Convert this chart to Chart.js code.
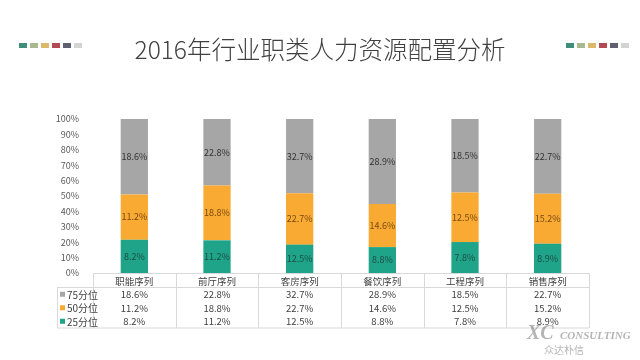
<!DOCTYPE html>
<html>
<head>
<meta charset="utf-8">
<script src="https://cdn.jsdelivr.net/npm/chart.js@4"></script>
<style>
  html, body { margin: 0; padding: 0; background: #fff; }
  #wrap { position: relative; width: 640px; height: 360px; }
  #titulo { position: absolute; left: 0; top: 31px; width: 640px; text-align: center;
    font-family: "Noto Sans CJK SC", sans-serif; font-size: 24.5px; font-weight: 300; color: #404040; }
  .cuadros { position: absolute; top: 43px; display: flex; gap: 3px; }
  .cuadros span { display: block; width: 8px; height: 5px; }
</style>
</head>
<body>
<div id="wrap">
  <div class="cuadros" style="left:19px"><span style="background:#3f8e7a"></span><span style="background:#a9b98f"></span><span style="background:#dcb86c"></span><span style="background:#b24a52"></span><span style="background:#5e6070"></span><span style="background:#d4d4d4"></span></div>
  <div class="cuadros" style="left:566px"><span style="background:#3f8e7a"></span><span style="background:#a9b98f"></span><span style="background:#dcb86c"></span><span style="background:#b24a52"></span><span style="background:#5e6070"></span><span style="background:#d4d4d4"></span></div>
  <div id="titulo">2016年行业职类人力资源配置分析</div>
  <canvas id="grafico" width="640" height="360"></canvas>
</div>
<script>
const categorias = ["职能序列", "前厅序列", "客房序列", "餐饮序列", "工程序列", "销售序列"];
const p25 = [8.2, 11.2, 12.5, 8.8, 7.8, 8.9];
const p50 = [11.2, 18.8, 22.7, 14.6, 12.5, 15.2];
const p75 = [18.6, 22.8, 32.7, 28.9, 18.5, 22.7];
const ticksY = ["0%", "10%", "20%", "30%", "40%", "50%", "60%", "70%", "80%", "90%", "100%"];

// 100% apilado: cada barra se normaliza a su total
const totales = categorias.map((c, i) => p25[i] + p50[i] + p75[i]);
const norm = arr => arr.map((v, i) => v / totales[i] * 100);

const series = [
  { label: "25分位", valores: p25, color: "#1fa48a", texto: "#1d4d44" },
  { label: "50分位", valores: p50, color: "#f8aa33", texto: "#7a4a10" },
  { label: "75分位", valores: p75, color: "#a6a6a6", texto: "#333333" }
];

const fuente = '"Noto Sans CJK SC", "Microsoft YaHei", sans-serif';

const tablaPlugin = {
  id: "tabla",
  afterDatasetsDraw(chart) {
    const ctx = chart.ctx;
    const x = chart.scales.x;
    const area = chart.chartArea;
    const paso = x.getPixelForValue(1) - x.getPixelForValue(0);
    const izq = x.getPixelForValue(0) - paso / 2;
    const der = x.getPixelForValue(categorias.length - 1) + paso / 2;
    const leyIzq = 57;
    const filaH = 13.5;
    const top = area.bottom;
    const cabecera = top + 14;
    const fondo = cabecera + filaH * 3 + 0.5;

    ctx.save();
    // etiquetas de datos dentro de las barras
    ctx.font = "9px " + fuente;
    ctx.textAlign = "center";
    ctx.textBaseline = "middle";
    chart.data.datasets.forEach((ds, di) => {
      const meta = chart.getDatasetMeta(di);
      meta.data.forEach((bar, i) => {
        const yc = (bar.y + bar.base) / 2;
        ctx.fillStyle = series[di].texto;
        ctx.fillText(series[di].valores[i].toFixed(1) + "%", bar.x, yc);
      });
    });

    // líneas de la tabla
    ctx.strokeStyle = "#d9d9d9";
    ctx.lineWidth = 1;
    ctx.beginPath();
    ctx.moveTo(izq, top + 0.5); ctx.lineTo(der, top + 0.5);
    ctx.moveTo(leyIzq, cabecera + 0.5); ctx.lineTo(der, cabecera + 0.5);
    ctx.moveTo(leyIzq, fondo); ctx.lineTo(der, fondo);
    ctx.moveTo(leyIzq + 0.5, cabecera); ctx.lineTo(leyIzq + 0.5, fondo);
    for (let i = 0; i <= categorias.length; i++) {
      const xx = Math.round(izq + paso * i) + 0.5;
      ctx.moveTo(xx, top); ctx.lineTo(xx, fondo);
    }
    ctx.stroke();

    // cabecera
    ctx.font = "9.5px " + fuente;
    ctx.fillStyle = "#404040";
    categorias.forEach((c, i) => {
      ctx.fillText(c, x.getPixelForValue(i), top + 8);
    });

    // filas (75, 50, 25)
    const orden = [2, 1, 0];
    orden.forEach((si, r) => {
      const yc = cabecera + filaH * r + filaH / 2 + 1;
      const s = series[si];
      ctx.fillStyle = s.color;
      ctx.fillRect(leyIzq + 3, yc - 3, 5, 5);
      ctx.fillStyle = "#404040";
      ctx.textAlign = "left";
      ctx.font = "10px " + fuente;
      ctx.fillText(s.label, leyIzq + 10, yc);
      ctx.textAlign = "center";
      ctx.font = "9.5px " + fuente;
      s.valores.forEach((v, i) => {
        ctx.fillText(v.toFixed(1) + "%", x.getPixelForValue(i), yc);
      });
    });

    // marca de agua
    ctx.globalAlpha = 0.4;
    ctx.fillStyle = "#444";
    ctx.textAlign = "left";
    ctx.font = "italic bold 20px Liberation Serif";
    ctx.fillText("XC", 527, 334);
    ctx.font = "italic bold 11px Liberation Serif";
    ctx.fillText("CONSULTING", 560, 336);
    ctx.font = "10px " + fuente;
    ctx.fillText("众达朴信", 544, 350);
    ctx.restore();
  }
};

new Chart(document.getElementById("grafico"), {
  type: "bar",
  data: {
    labels: categorias,
    datasets: series.map(s => ({
      label: s.label,
      data: norm(s.valores),
      backgroundColor: s.color,
      barPercentage: 0.33,
      categoryPercentage: 1
    }))
  },
  options: {
    responsive: false,
    animation: false,
    layout: { padding: { left: 0, top: 119, right: 51, bottom: 87 } },
    plugins: { legend: { display: false }, tooltip: { enabled: false } },
    scales: {
      x: { stacked: true, display: false },
      y: {
        stacked: true,
        min: 0,
        max: 100,
        border: { display: false },
        grid: { display: false },
        afterFit(scale) { scale.width = 93; },
        ticks: {
          stepSize: 10,
          padding: 6,
          color: "#595959",
          font: { size: 9, family: fuente },
          callback: (v, i) => ticksY[i]
        }
      }
    }
  },
  plugins: [tablaPlugin]
});
</script>
</body>
</html>
